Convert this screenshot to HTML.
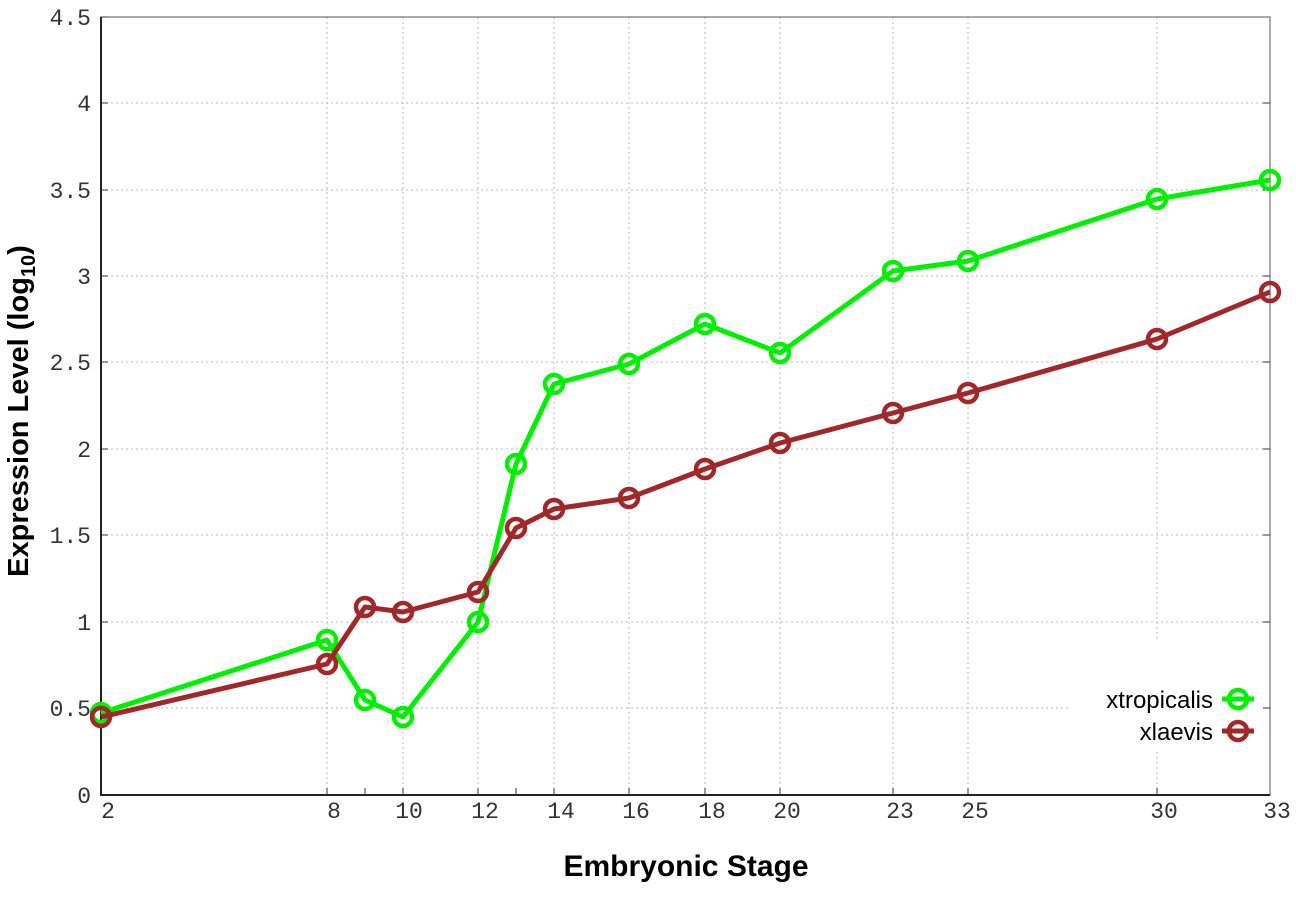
<!DOCTYPE html>
<html><head><meta charset="utf-8"><style>
html,body{margin:0;padding:0;background:#fff;}
svg{display:block;}
.t{font-family:"Liberation Mono",monospace;font-size:23px;fill:#333;}
</style></head><body>
<svg width="1296" height="907" viewBox="0 0 1296 907" xmlns="http://www.w3.org/2000/svg">
<rect width="1296" height="907" fill="#fff"/>
<g stroke="#bbb" stroke-width="1" stroke-dasharray="2,3">
<line x1="101" y1="708" x2="1270" y2="708"/>
<line x1="101" y1="622" x2="1270" y2="622"/>
<line x1="101" y1="535" x2="1270" y2="535"/>
<line x1="101" y1="449" x2="1270" y2="449"/>
<line x1="101" y1="362" x2="1270" y2="362"/>
<line x1="101" y1="276" x2="1270" y2="276"/>
<line x1="101" y1="190" x2="1270" y2="190"/>
<line x1="101" y1="103" x2="1270" y2="103"/>
<line x1="327" y1="17" x2="327" y2="795"/>
<line x1="403" y1="17" x2="403" y2="795"/>
<line x1="478" y1="17" x2="478" y2="795"/>
<line x1="554" y1="17" x2="554" y2="795"/>
<line x1="629" y1="17" x2="629" y2="795"/>
<line x1="705" y1="17" x2="705" y2="795"/>
<line x1="780" y1="17" x2="780" y2="795"/>
<line x1="893" y1="17" x2="893" y2="795"/>
<line x1="968" y1="17" x2="968" y2="795"/>
<line x1="1157" y1="17" x2="1157" y2="795"/>
</g>
<rect x="1070" y="640" width="195" height="110" fill="#fff"/>
<rect x="101" y="17" width="1169" height="778" fill="none" stroke="#555" stroke-width="1"/>
<line x1="101" y1="17" x2="101" y2="796" stroke="#222" stroke-width="2"/>
<line x1="100" y1="795" x2="1270" y2="795" stroke="#222" stroke-width="2"/>
<g stroke="#333" stroke-width="1">
<path d="M101 708h7M101 622h7M101 535h7M101 449h7M101 362h7M101 276h7M101 190h7M101 103h7M101 17h7"/>
<path d="M1270 708h-7M1270 622h-7M1270 535h-7M1270 449h-7M1270 362h-7M1270 276h-7M1270 190h-7M1270 103h-7"/>
<path d="M327 795v-7M365 795v-7M403 795v-7M478 795v-7M516 795v-7M554 795v-7M629 795v-7M705 795v-7M780 795v-7M893 795v-7M968 795v-7M1157 795v-7"/>
</g>
<g class="t" text-anchor="end">
<text x="91" y="803">0</text>
<text x="91" y="716">0.5</text>
<text x="91" y="630">1</text>
<text x="91" y="543">1.5</text>
<text x="91" y="457">2</text>
<text x="91" y="370">2.5</text>
<text x="91" y="284">3</text>
<text x="91" y="198">3.5</text>
<text x="91" y="111">4</text>
<text x="91" y="25">4.5</text>
</g>
<g class="t" text-anchor="middle">
<text x="108" y="818">2</text>
<text x="334" y="818">8</text>
<text x="409" y="818">10</text>
<text x="485" y="818">12</text>
<text x="561" y="818">14</text>
<text x="636" y="818">16</text>
<text x="712" y="818">18</text>
<text x="787" y="818">20</text>
<text x="900" y="818">23</text>
<text x="975" y="818">25</text>
<text x="1164" y="818">30</text>
<text x="1277" y="818">33</text>
</g>
<text x="686" y="876" text-anchor="middle" font-family="Liberation Sans,sans-serif" font-weight="bold" font-size="30" fill="#000">Embryonic Stage</text>
<text transform="translate(28,411) rotate(-90)" text-anchor="middle" font-family="Liberation Sans,sans-serif" font-weight="bold" font-size="29" fill="#000">Expression Level (log<tspan font-size="20" dy="7">10</tspan><tspan dy="-7">)</tspan></text>
<g fill="none" stroke="#00ee00" stroke-width="5" stroke-linejoin="round">
<polyline points="101,713 327,640 365,700 403,717 478,622 516,464 554,384 629,364 705,324 780,353 893,271 968,261 1157,199 1270,180"/>
<g stroke-width="4.5" fill="none">
<circle cx="101" cy="713" r="9"/><circle cx="327" cy="640" r="9"/><circle cx="365" cy="700" r="9"/><circle cx="403" cy="717" r="9"/><circle cx="478" cy="622" r="9"/><circle cx="516" cy="464" r="9"/><circle cx="554" cy="384" r="9"/><circle cx="629" cy="364" r="9"/><circle cx="705" cy="324" r="9"/><circle cx="780" cy="353" r="9"/><circle cx="893" cy="271" r="9"/><circle cx="968" cy="261" r="9"/><circle cx="1157" cy="199" r="9"/><circle cx="1270" cy="180" r="9"/>
</g>
<line x1="1222" y1="699" x2="1254" y2="699"/><circle cx="1238" cy="699" r="9" stroke-width="4.5"/>
</g>
<g fill="none" stroke="#a0282a" stroke-width="5" stroke-linejoin="round">
<polyline points="101,717 327,664 365,607 403,612 478,592 516,528 554,509 629,498 705,469 780,443 893,413 968,393 1157,339 1270,292"/>
<g stroke-width="4.5">
<circle cx="101" cy="717" r="9"/><circle cx="327" cy="664" r="9"/><circle cx="365" cy="607" r="9"/><circle cx="403" cy="612" r="9"/><circle cx="478" cy="592" r="9"/><circle cx="516" cy="528" r="9"/><circle cx="554" cy="509" r="9"/><circle cx="629" cy="498" r="9"/><circle cx="705" cy="469" r="9"/><circle cx="780" cy="443" r="9"/><circle cx="893" cy="413" r="9"/><circle cx="968" cy="393" r="9"/><circle cx="1157" cy="339" r="9"/><circle cx="1270" cy="292" r="9"/>
</g>
<line x1="1222" y1="731" x2="1254" y2="731"/><circle cx="1238" cy="731" r="9" stroke-width="4.5"/>
</g>
<g font-family="Liberation Sans,sans-serif" font-size="24" fill="#000" text-anchor="end">
<text x="1213" y="708">xtropicalis</text>
<text x="1213" y="740">xlaevis</text>
</g>
</svg>
</body></html>
